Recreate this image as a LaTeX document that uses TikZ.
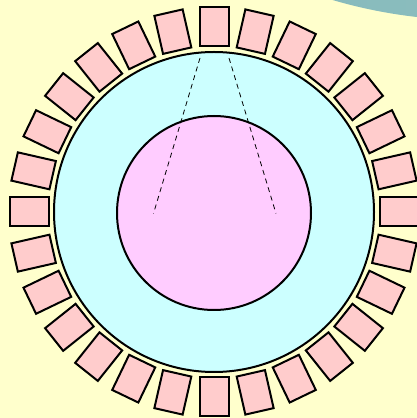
\documentclass[tikz,border=0pt]{standalone}
\usetikzlibrary{calc}
\definecolor{bgyellow}{RGB}{255,255,204}
\definecolor{ringcyan}{RGB}{204,255,255}
\definecolor{corepink}{RGB}{255,204,255}
\definecolor{tilepink}{RGB}{255,204,204}
\definecolor{tealdark}{RGB}{128,182,184}
\definecolor{teallight}{RGB}{150,196,196}
\tikzset{
  tile/.style={draw=black, line width=2pt, fill=tilepink, inner sep=0pt,
    minimum width=39pt, minimum height=29pt},
  disk/.style={draw=black, line width=2pt, circle, inner sep=0pt},
  guide/.style={draw=black, line width=0.8pt, dash pattern=on 5pt off 4pt}
}
\begin{document}
\begin{tikzpicture}[x=1pt,y=1pt]
\useasboundingbox (0,0) rectangle (417,418);
\clip (0,0) rectangle (417,418);
\fill[bgyellow] (0,0) rectangle (417,418);
\shade[left color=tealdark, right color=teallight] (473.7,897.8) circle (500);
\node[disk, fill=ringcyan, minimum size=320pt] (ring) at (214,206) {};
\node[disk, fill=corepink, minimum size=194pt] (core) at (214,205) {};
\foreach \i in {0,...,27} {
  \pgfmathsetmacro{\ang}{\i*360/28}
  \node[tile, rotate=\ang] (t\i) at ($(ring.center)+(\ang:185)$) {};
}
\coordinate (a1) at (200,360);
\coordinate (a2) at (153.5,204.5);
\coordinate (b1) at (229,360);
\coordinate (b2) at (276,204.5);
\draw[guide] (a1) -- (a2);
\draw[guide] (b1) -- (b2);
\end{tikzpicture}
\end{document}
